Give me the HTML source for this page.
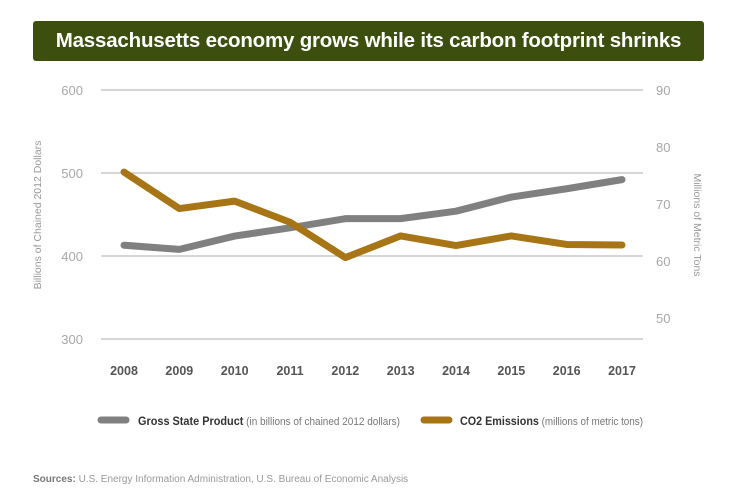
<!DOCTYPE html>
<html><head><meta charset="utf-8"><style>
body{margin:0;background:#fff;font-family:"Liberation Sans",sans-serif;}
#wrap{position:relative;width:737px;height:499px;overflow:hidden;}
#banner{position:absolute;left:33px;top:21px;width:671px;height:40px;background:#3d4f0f;border-radius:3px;color:#fff;font-weight:bold;font-size:20.5px;line-height:40px;text-align:center;letter-spacing:-0.2px;}
</style></head><body>
<div id="wrap">
<div id="banner">Massachusetts economy grows while its carbon footprint shrinks</div>
<svg id="chart" width="737" height="499" style="position:absolute;left:0;top:0"></svg>
</div>
<script>
const years=["2008","2009","2010","2011","2012","2013","2014","2015","2016","2017"];
const gsp=[413,408,424,434,445,445,454,471,481,492];
const co2=[75.6,69.2,70.5,66.8,60.6,64.4,62.7,64.4,62.9,62.8];
const leftTicks=[300,400,500,600];
const rightTicks=[50,60,70,80,90];
const NS="http://www.w3.org/2000/svg";
const svg=document.getElementById('chart');
const x0=124,x1=622;
function xs(i){return x0+i*(x1-x0)/(years.length-1);}
function yl(v){return 339-(v-300)*0.83;}
function yr(v){return 90+(90-v)*5.7;}
function mk(tag,attrs,txt){const e=document.createElementNS(NS,tag);for(const k in attrs)e.setAttribute(k,attrs[k]);if(txt!==undefined)e.textContent=txt;svg.appendChild(e);return e;}
leftTicks.forEach(t=>{
  const l=mk('line',{x1:101,x2:643,y1:yl(t),y2:yl(t),stroke:'#bdbdbd','stroke-width':1.2});
  
  
  const tx=mk('text',{x:83,y:yl(t)+5,'text-anchor':'end','font-size':13,fill:'#a8a8a8'},t);
  
  
});
rightTicks.forEach(t=>{
  const tx=mk('text',{x:656,y:yr(t)+5,'font-size':13,fill:'#a8a8a8'},t);
  
  
});
years.forEach((y,i)=>{
  const tx=mk('text',{x:xs(i),y:375,'text-anchor':'middle','font-size':12.5,'font-weight':'bold',fill:'#555'},y);
  
  
});
const ly=mk('text',{transform:'translate(41,215) rotate(-90)','text-anchor':'middle','font-size':10.5,fill:'#999'},'Billions of Chained 2012 Dollars');


const ry=mk('text',{transform:'translate(694,225) rotate(90)','text-anchor':'middle','font-size':10.5,fill:'#999'},'Millions of Metric Tons');


const gp=mk('polyline',{points:gsp.map((v,i)=>xs(i)+','+yl(v)).join(' '),fill:'none',stroke:'#808080','stroke-width':7,'stroke-linejoin':'round','stroke-linecap':'round'});


const cp=mk('polyline',{points:co2.map((v,i)=>xs(i)+','+yr(v)).join(' '),fill:'none',stroke:'#a87516','stroke-width':7,'stroke-linejoin':'round','stroke-linecap':'round'});


const l1=mk('line',{x1:101,x2:126,y1:420,y2:420,stroke:'#808080','stroke-width':7,'stroke-linecap':'round'});


const t1=mk('text',{x:138,y:425,'font-size':12,fill:'#333',textLength:262,lengthAdjust:'spacingAndGlyphs'});
t1.innerHTML='<tspan font-weight="bold" fill="#333">Gross State Product</tspan><tspan fill="#777" font-size="11"> (in billions of chained 2012 dollars)</tspan>';


const l2=mk('line',{x1:424,x2:449,y1:420,y2:420,stroke:'#a87516','stroke-width':7,'stroke-linecap':'round'});


const t2=mk('text',{x:460,y:425,'font-size':12,fill:'#333',textLength:183,lengthAdjust:'spacingAndGlyphs'});
t2.innerHTML='<tspan font-weight="bold">CO2 Emissions</tspan><tspan fill="#777" font-size="11"> (millions of metric tons)</tspan>';


const src=mk('text',{x:33,y:482,'font-size':10,fill:'#999'});
src.innerHTML='<tspan font-weight="bold" fill="#777">Sources:</tspan> U.S. Energy Information Administration, U.S. Bureau of Economic Analysis';


</script>
</body></html>
